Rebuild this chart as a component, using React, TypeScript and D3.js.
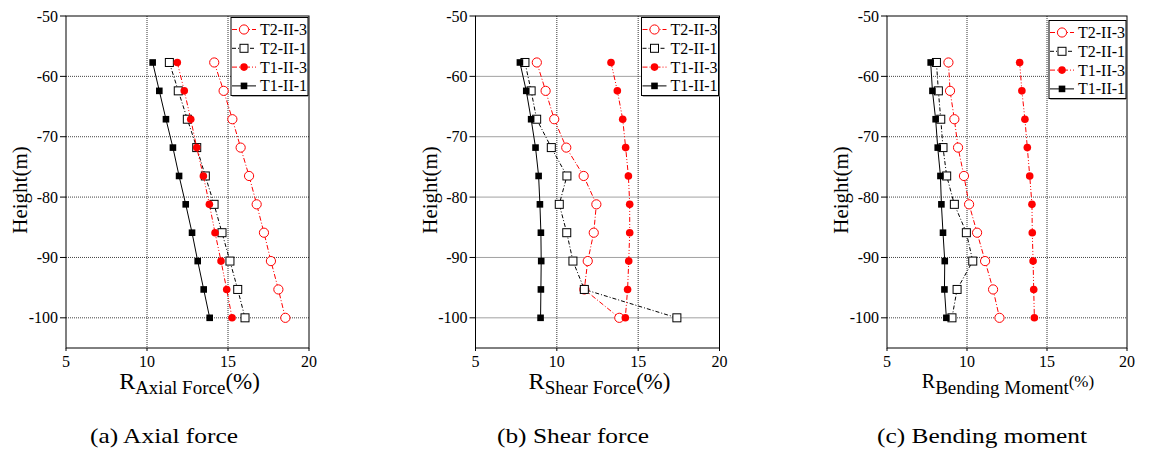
import React from "react";
import * as d3 from "d3";

const heights = [-57.7, -62.4, -67.1, -71.8, -76.5, -81.2, -85.9, -90.6, -95.3, -100];
const seriesNames = ["T2-II-3", "T2-II-1", "T1-II-3", "T1-II-1"];

const axialT2_3 = [14.15, 14.73, 15.27, 15.78, 16.3, 16.77, 17.22, 17.65, 18.11, 18.54];
const axialT2_1 = [11.38, 11.93, 12.49, 13.07, 13.6, 14.14, 14.63, 15.12, 15.6, 16.05];
const axialT1_3 = [11.87, 12.3, 12.7, 13.07, 13.48, 13.85, 14.2, 14.57, 14.92, 15.25];
const axialT1_1 = [10.35, 10.76, 11.17, 11.6, 11.98, 12.39, 12.78, 13.13, 13.5, 13.87];

const shearT2_3 = [8.77, 9.31, 9.84, 10.58, 11.65, 12.43, 12.27, 11.9, 11.69, 13.84];
const shearT2_1 = [8.04, 8.42, 8.76, 9.66, 10.62, 10.15, 10.61, 10.99, 11.69, 17.38];
const shearT1_3 = [13.33, 13.72, 14.05, 14.23, 14.4, 14.48, 14.48, 14.42, 14.35, 14.21];
const shearT1_1 = [7.73, 8.12, 8.42, 8.69, 8.88, 8.96, 9.02, 9.04, 9.02, 9.0];

const bendT2_3 = [8.84, 8.94, 9.21, 9.44, 9.81, 10.13, 10.63, 11.13, 11.63, 12.03];
const bendT2_1 = [8.09, 8.21, 8.36, 8.5, 8.73, 9.21, 9.96, 10.36, 9.38, 9.06];
const bendT1_3 = [13.29, 13.43, 13.62, 13.77, 13.92, 14.06, 14.08, 14.13, 14.17, 14.21];
const bendT1_1 = [7.73, 7.84, 8.04, 8.17, 8.34, 8.4, 8.5, 8.61, 8.59, 8.71];

const xTicks = [5, 10, 15, 20];
const yTicks = [-50, -60, -70, -80, -90, -100];

const FONT = "'Liberation Serif', 'Times New Roman', serif";

type Style = { color: string; dash: string; marker: "ocircle" | "osquare" | "fcircle" | "fsquare" };
const styles: Style[] = [
  { color: "#ff0000", dash: "5,2,1,2", marker: "ocircle" },
  { color: "#000000", dash: "4,2,1,2", marker: "osquare" },
  { color: "#ff0000", dash: "5,2,1,2,1,2", marker: "fcircle" },
  { color: "#000000", dash: "", marker: "fsquare" },
];

function Marker({ x, y, s }: { x: number; y: number; s: Style }) {
  if (s.marker === "ocircle")
    return <circle cx={x} cy={y} r={4.6} fill="white" stroke={s.color} strokeWidth={1} />;
  if (s.marker === "osquare")
    return <rect x={x - 4} y={y - 4} width={8} height={8} fill="white" stroke={s.color} strokeWidth={1} />;
  if (s.marker === "fcircle") return <circle cx={x} cy={y} r={3.8} fill={s.color} />;
  return <rect x={x - 3.3} y={y - 3.3} width={6.6} height={6.6} fill={s.color} />;
}

type PanelProps = {
  left: number;
  width: number;
  data: number[][];
  sub: string;
  small?: boolean;
  caption: string;
  capX: number;
  capW: number;
  legendDy?: number;
};

function Panel({ left, width, data, sub, small, caption, capX, capW, legendDy = 0 }: PanelProps) {
  const top = 16;
  const bottom = 348;
  const x = d3.scaleLinear().domain([5, 20]).range([left, left + width]);
  const y = d3.scaleLinear().domain([-105, -50]).range([bottom, top]);
  const line = d3
    .line<[number, number]>()
    .x((d) => x(d[0]))
    .y((d) => y(d[1]));
  const right = left + width;
  const lgX = right - 78;
  const lgY = top + 1.5 + legendDy;
  const cx = left + width / 2;
  return (
    <g>
      {[10, 15].map((t) => (
        <line key={"gx" + t} x1={x(t)} x2={x(t)} y1={top} y2={bottom} stroke="#333" strokeWidth={1} strokeDasharray="1,1" />
      ))}
      {[-60, -70, -80, -90, -100].map((t) => (
        <line key={"gy" + t} x1={left} x2={right} y1={y(t)} y2={y(t)} stroke="#444" strokeWidth={1} strokeDasharray="1,1" />
      ))}
      <rect x={left} y={top} width={width} height={bottom - top} fill="none" stroke="#000" strokeWidth={1} />
      {xTicks.map((t) => (
        <g key={"xt" + t}>
          <line x1={x(t)} x2={x(t)} y1={bottom} y2={bottom + 3} stroke="#000" />
          <text x={x(t)} y={367} textAnchor="middle" fontFamily={FONT} fontSize={16}>
            {t}
          </text>
        </g>
      ))}
      {yTicks.map((t) => (
        <g key={"yt" + t}>
          <line x1={left - 6} x2={left} y1={y(t)} y2={y(t)} stroke="#000" />
          <text x={left - 8} y={y(t) + 5.5} textAnchor="end" fontFamily={FONT} fontSize={16}>
            {t}
          </text>
        </g>
      ))}
      <text
        transform={`translate(${left - 46},190) rotate(-90)`}
        textAnchor="middle"
        dominantBaseline="central"
        fontFamily={FONT}
        fontSize={21}
      >
        Height(m)
      </text>
      {small ? (
        <text x={cx + 1} y={388} textAnchor="middle" fontFamily={FONT}>
          <tspan fontSize={20}>R</tspan>
          <tspan fontSize={19} dy={6}>{sub}</tspan>
          <tspan fontSize={17} dy={-7}>(%)</tspan>
        </text>
      ) : (
        <text x={cx + 2} y={389} textAnchor="middle" fontFamily={FONT}>
          <tspan fontSize={24}>R</tspan>
          <tspan fontSize={19} dy={5}>{sub}</tspan>
          <tspan fontSize={23} dy={-5}>(%)</tspan>
        </text>
      )}
      {data.map((vals, i) => {
        const pts: [number, number][] = vals.map((v, j) => [v, heights[j]]);
        return (
          <g key={"s" + i}>
            <path d={line(pts) || ""} fill="none" stroke={styles[i].color} strokeWidth={1} strokeDasharray={styles[i].dash} />
            {pts.map((p, j) => (
              <Marker key={j} x={x(p[0])} y={y(p[1])} s={styles[i]} />
            ))}
          </g>
        );
      })}
      <rect x={lgX + 1.2} y={lgY + 1.2} width={77} height={78} fill="#888" />
      <rect x={lgX} y={lgY} width={77} height={78} fill="white" stroke="#000" strokeWidth={1} />
      {seriesNames.map((n, i) => {
        const ry = lgY + 12 + i * 18.8;
        return (
          <g key={"lg" + i}>
            <line x1={lgX + 1} x2={lgX + 25} y1={ry} y2={ry} stroke={styles[i].color} strokeDasharray={styles[i].dash} />
            <Marker x={lgX + 13} y={ry} s={styles[i]} />
            <text x={lgX + 29} y={ry + 5.5} fontFamily={FONT} fontSize={16}>
              {n}
            </text>
          </g>
        );
      })}
      <text
        x={capX}
        y={443}
        textAnchor="middle"
        fontFamily={FONT}
        fontSize={22}
        textLength={capW}
        lengthAdjust="spacingAndGlyphs"
      >
        {caption}
      </text>
    </g>
  );
}

export default function App() {
  return (
    <svg width={1150} height={452} style={{ position: "absolute", left: 0, top: 0, background: "white" }}>
      <rect width={1150} height={452} fill="white" />
      <Panel
        left={66}
        width={243}
        data={[axialT2_3, axialT2_1, axialT1_3, axialT1_1]}
        sub="Axial Force"
        caption="(a) Axial force"
        capX={164}
        capW={148}
      />
      <Panel
        left={475.5}
        width={244}
        data={[shearT2_3, shearT2_1, shearT1_3, shearT1_1]}
        sub="Shear Force"
        caption="(b) Shear force"
        capX={573}
        capW={152}
      />
      <Panel
        left={887}
        width={240}
        data={[bendT2_3, bendT2_1, bendT1_3, bendT1_1]}
        sub="Bending Moment"
        small
        caption="(c) Bending moment"
        capX={982}
        capW={210}
        legendDy={3}
      />
    </svg>
  );
}
